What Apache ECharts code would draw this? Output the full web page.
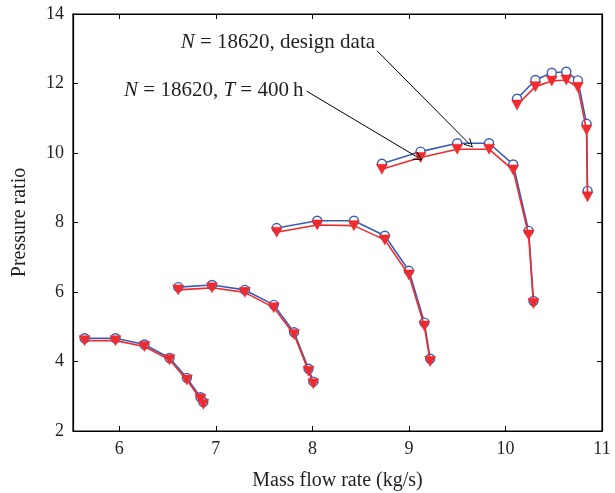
<!DOCTYPE html>
<html>
<head>
<meta charset="utf-8">
<script src="https://cdn.jsdelivr.net/npm/echarts@6/dist/echarts.min.js"></script>
<style>
html,body{margin:0;padding:0;background:#fff;}
#chart{width:615px;height:493px;}
</style>
</head>
<body>
<div id="chart"></div>
<script>
// Mass flow rate (kg/s) for each speed line
var mass1 = [5.64, 5.96, 6.26, 6.52, 6.70, 6.84, 6.87];
var mass2 = [6.61, 6.96, 7.30, 7.60, 7.81, 7.96, 8.01];
var mass3 = [7.63, 8.05, 8.43, 8.75, 9.00, 9.16, 9.22];
var mass4 = [8.72, 9.12, 9.50, 9.83, 10.08, 10.24, 10.29];
var mass5 = [10.12, 10.31, 10.48, 10.63, 10.75, 10.84, 10.85];

// Pressure ratio, design data
var design1 = [4.67, 4.67, 4.49, 4.10, 3.53, 2.97, 2.83];
var design2 = [6.14, 6.20, 6.06, 5.63, 4.84, 3.79, 3.42];
var design3 = [7.84, 8.05, 8.05, 7.62, 6.61, 5.12, 4.08];
var design4 = [9.69, 10.04, 10.28, 10.28, 9.67, 7.76, 5.74];
var design5 = [11.56, 12.10, 12.31, 12.34, 12.09, 10.84, 8.91];

// Pressure ratio, T = 400 h
var aged1 = [4.60, 4.60, 4.43, 4.05, 3.47, 2.92, 2.77];
var aged2 = [6.06, 6.12, 5.99, 5.55, 4.78, 3.72, 3.36];
var aged3 = [7.72, 7.93, 7.91, 7.50, 6.49, 5.02, 4.00];
var aged4 = [9.53, 9.87, 10.11, 10.11, 9.51, 7.64, 5.67];
var aged5 = [11.38, 11.91, 12.07, 12.10, 11.89, 10.66, 8.74];

var xTicks = [6, 7, 8, 9, 10, 11];
var yTicks = [2, 4, 6, 8, 10, 12, 14];

var masses = [mass1, mass2, mass3, mass4, mass5];
var designs = [design1, design2, design3, design4, design5];
var ageds = [aged1, aged2, aged3, aged4, aged5];

var FONT = 'Liberation Serif';
var TXT = '#231f20';
var BLUE = '#3a5cb4';
var RED = '#ee2b2e';
var arrowPath = 'path://M5,0 L10,9 L9.1,9.6 L5,1.9 L0.9,9.6 L0,9 Z';

function pairs(xs, ys) {
  return xs.map(function (x, i) { return [x, ys[i]]; });
}

var series = [];
masses.forEach(function (m, k) {
  series.push({
    type: 'line', data: pairs(m, designs[k]), xAxisIndex: 0, yAxisIndex: 0,
    symbol: 'circle', symbolSize: 9, showAllSymbol: true,
    lineStyle: { color: BLUE, width: 1.6 },
    itemStyle: { color: '#fff', borderColor: BLUE, borderWidth: 1.4 },
    z: 2, animation: false
  });
});
masses.forEach(function (m, k) {
  series.push({
    type: 'line', data: pairs(m, ageds[k]), xAxisIndex: 0, yAxisIndex: 0,
    symbol: 'triangle', symbolRotate: 180, symbolSize: [11, 10], showAllSymbol: true,
    lineStyle: { color: RED, width: 1.6 },
    itemStyle: { color: RED, borderColor: RED, borderWidth: 0.5 },
    z: 3, animation: false
  });
});

// annotation arrows
series.push({
  type: 'line', data: [], xAxisIndex: 0, yAxisIndex: 0, animation: false,
  markLine: {
    silent: true, animation: false,
    symbol: ['none', arrowPath], symbolSize: [9, 9],
    label: { show: false },
    lineStyle: { color: '#000', width: 1, type: 'solid' },
    emphasis: { disabled: true },
    data: [
      [{ coord: [8.67, 12.94] }, { coord: [9.63, 10.25] }],
      [{ coord: [7.94, 11.78] }, { coord: [9.10, 9.86] }]
    ]
  }
});

var axisCommon = {
  type: 'value',
  axisLine: { show: true, lineStyle: { color: '#000', width: 1.2 } },
  splitLine: { show: false },
  axisTick: { show: true, inside: true, length: 5, lineStyle: { color: '#000', width: 1 } }
};

var chart = echarts.init(document.getElementById('chart'), null, { renderer: 'canvas' });
var option = {
  backgroundColor: '#fff',
  animation: false,
  grid: {
    left: 73, right: 13, top: 14, bottom: 62, show: true,
    borderColor: '#000', borderWidth: 1.2, containLabel: false, outerBoundsMode: 'none'
  },
  xAxis: [
    Object.assign({}, axisCommon, {
      min: 5.52, max: 11, position: 'bottom',
      name: 'Mass flow rate (kg/s)', nameLocation: 'middle', nameGap: 40,
      nameTextStyle: { fontFamily: FONT, fontSize: 20, color: TXT },
      axisTick: Object.assign({}, axisCommon.axisTick, { customValues: xTicks }),
      axisLabel: { customValues: xTicks, fontFamily: FONT, fontSize: 18, color: TXT, margin: 9 }
    }),
    Object.assign({}, axisCommon, {
      min: 5.52, max: 11, position: 'top',
      axisTick: Object.assign({}, axisCommon.axisTick, { customValues: xTicks }),
      axisLabel: { show: false, customValues: xTicks }
    })
  ],
  yAxis: [
    Object.assign({}, axisCommon, {
      min: 2, max: 14, interval: 2, position: 'left',
      name: 'Pressure ratio', nameLocation: 'middle', nameGap: 43, nameRotate: 90,
      nameTextStyle: { fontFamily: FONT, fontSize: 20, color: TXT },
      axisLabel: { fontFamily: FONT, fontSize: 18, color: TXT, margin: 9 }
    }),
    Object.assign({}, axisCommon, {
      min: 2, max: 14, interval: 2, position: 'right',
      axisLabel: { show: false }
    })
  ],
  series: series
};
chart.setOption(option);

var p1 = chart.convertToPixel({ gridIndex: 0 }, [8.67, 12.94]);
var p2 = chart.convertToPixel({ gridIndex: 0 }, [7.94, 11.78]);
chart.setOption({
  graphic: [
    {
      type: 'text', x: p1[0] - 2, y: p1[1] - 8, silent: true,
      style: {
        text: '{i|N} = 18620, design data', align: 'right', verticalAlign: 'middle',
        font: '21px "Liberation Serif"', fill: TXT,
        rich: { i: { fontStyle: 'italic', fontFamily: FONT, fontSize: 21, fill: TXT } }
      }
    },
    {
      type: 'text', x: p2[0] - 3, y: p2[1] - 1, silent: true,
      style: {
        text: '{i|N} = 18620, {i|T} = 400\u2009h', align: 'right', verticalAlign: 'middle',
        font: '21px "Liberation Serif"', fill: TXT,
        rich: { i: { fontStyle: 'italic', fontFamily: FONT, fontSize: 21, fill: TXT } }
      }
    }
  ]
});
</script>
</body>
</html>
